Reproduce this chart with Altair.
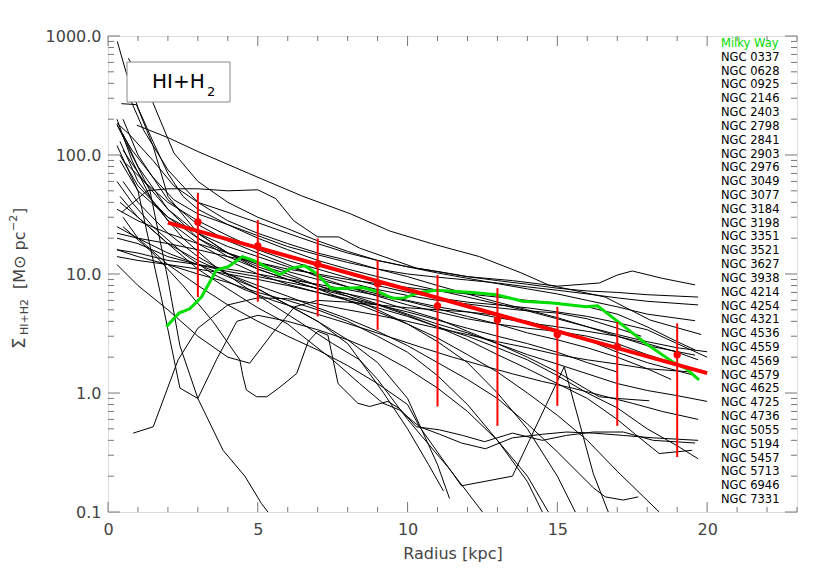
import altair as alt
import pandas as pd

# ---------------- data ----------------
galaxy_names = ["NGC 0337", "NGC 0628", "NGC 0925", "NGC 2146", "NGC 2403", "NGC 2798",
                "NGC 2841", "NGC 2903", "NGC 2976", "NGC 3049", "NGC 3077", "NGC 3184",
                "NGC 3198", "NGC 3351", "NGC 3521", "NGC 3627", "NGC 3938", "NGC 4214",
                "NGC 4254", "NGC 4321", "NGC 4536", "NGC 4559", "NGC 4569", "NGC 4579",
                "NGC 4625", "NGC 4725", "NGC 4736", "NGC 5055", "NGC 5194", "NGC 5457",
                "NGC 5713", "NGC 6946", "NGC 7331"]

r01 = [0.96, 2, 3, 4.7, 6.5, 8.1, 9.4, 10.8, 12.4, 13.8, 14.7, 16.6, 18.1, 19.8]
s01 = [178, 140, 107, 70, 45, 32, 23, 18, 14, 10.2, 8.1, 6.4, 4.1, 3.1]
r02 = [0.46, 1.3, 2, 3, 4, 5, 5.6, 6.2, 7, 7.7, 8.4, 10.3, 12, 13.5, 15, 16.4, 17, 17.5, 18.5, 19.6]
s02 = [33, 50, 52, 52, 50, 51, 43, 28, 20.5, 20.5, 16.5, 11.2, 9.5, 8.8, 7.9, 8.4, 9.8, 10.6, 9.2, 8.1]
r03 = [0.3, 0.7, 1.5, 2.2, 3, 4, 5, 6, 7, 8, 9, 10, 11, 12, 13, 14, 15, 16, 17, 18, 19.7]
s03 = [185, 150, 90, 55, 40, 33, 27, 22, 18, 15, 13, 11.5, 10.5, 9.5, 8.8, 8.2, 7.6, 7.2, 7.0, 6.7, 6.4]
r04 = [0.3, 0.8, 1.5, 2.2, 3, 4, 5, 6, 7, 8, 9, 10, 11, 12, 13, 14, 15, 16, 17, 18, 19.7]
s04 = [180, 110, 65, 42, 32, 26, 21, 17, 14.5, 12.5, 11, 10, 9.4, 8.9, 8.4, 7.8, 7.3, 6.8, 6.3, 5.9, 5.5]
r05 = [0.68, 1.5, 2.2, 3, 4, 5, 6, 7, 8, 9, 10, 11, 12, 13, 14, 15, 16, 17, 18, 19.6]
s05 = [650, 275, 104, 60, 40, 30, 24, 19, 15.5, 13, 11.5, 10.2, 9.2, 8.3, 7.5, 6.8, 6.0, 5.3, 4.6, 4.05]
r06 = [0.31, 0.6, 1, 1.5, 2, 2.5, 3, 4, 5, 6, 7, 8, 9, 10, 11, 12, 13, 14, 15, 16, 17, 18, 19, 20]
s06 = [900, 500, 250, 130, 70, 45, 35, 26, 20, 16, 13, 11, 9.5, 8.3, 7.3, 6.4, 5.6, 4.9, 4.2, 3.6, 3.1, 2.7, 2.4, 2.22]
r07 = [0.68, 1.2, 2, 3, 4, 5, 6, 7, 8, 9, 10, 11, 12, 13, 14, 15, 16, 17, 18, 19.6]
s07 = [320, 160, 75, 40, 28, 22, 18, 15, 13, 11, 9.5, 8, 6.8, 5.8, 5.0, 4.3, 3.6, 3.0, 2.5, 2.08]
r08 = [0.84, 1.51, 2.34, 3, 4, 5, 6, 7, 8, 9, 10, 11, 12, 13, 14, 15, 16, 17, 18, 19.5]
s08 = [0.46, 0.52, 1.9, 3.5, 5.5, 6.3, 6.2, 5.6, 5.0, 4.5, 4.0, 3.5, 3.1, 2.7, 2.4, 2.1, 1.9, 1.75, 1.6, 1.5]
r09 = [0.45, 0.95, 1.5, 2, 3, 4, 5, 6, 7, 8, 9, 10, 11, 12, 13, 14, 15, 16, 17, 18, 19, 20]
s09 = [270, 265, 120, 45, 22, 15, 11.5, 9.5, 8, 6.8, 5.6, 4.6, 3.8, 3.2, 2.6, 2.1, 1.75, 1.45, 1.2, 1.05, 0.95, 0.85]
r10 = [0.3, 0.8, 1.5, 2.5, 3.5, 4.5, 5.5, 6.5, 7.5, 8.5, 9.5, 10.5, 11.5, 12.5, 13.5, 14.5, 15.5, 16.5, 17.5, 18.5, 19.7]
s10 = [60, 40, 25, 15, 10, 7.5, 6, 5, 4.2, 3.5, 2.9, 2.4, 2.0, 1.7, 1.45, 1.25, 1.1, 0.95, 0.82, 0.7, 0.6]
r11 = [0.5, 1.2, 2, 3, 4, 5, 6, 7, 8, 9, 10, 11, 12, 13, 14, 15, 16, 17, 17.6, 18.4, 19.5]
s11 = [110, 60, 35, 22, 15, 11, 9, 7.5, 6.5, 5.5, 4.5, 3.6, 2.8, 2.1, 1.6, 1.2, 0.9, 0.6, 0.45, 0.31, 0.33]
r12 = [0.3, 1, 2, 3, 4, 5, 6, 7, 8, 9, 10, 11, 12, 13, 14, 15, 16, 17, 18, 19, 19.7]
s12 = [14, 13, 12, 11, 10, 9, 8, 7, 6, 5.2, 4.4, 3.6, 3, 2.4, 1.9, 1.4, 1.0, 0.75, 0.5, 0.36, 0.28]
r13 = [0.5, 1.5, 2.5, 3.5, 4.4, 4.5, 4.62, 4.96, 5.3, 5.7, 6.3, 6.68, 7.0, 7.34, 7.68, 8.34, 8.73, 9.34, 9.73,
       10.29, 11.07, 11.84, 12.57, 13.5, 14.5, 15.3, 16.2, 17.2, 18.2, 19.6]
s13 = [25, 15, 8, 4, 1.9, 1.4, 1.06, 0.93, 0.93, 1.1, 1.46, 2.7, 3.3, 3.07, 1.2, 0.82, 0.77, 0.85, 0.74,
       0.52, 0.49, 0.44, 0.39, 0.46, 0.4, 0.44, 0.47, 0.47, 0.40, 0.38]
r14 = [0.3, 1, 2, 3, 4, 5, 6, 7, 8, 9, 10, 11, 12, 13, 14, 15, 16.4, 17, 18.07]
s14 = [20, 18, 14, 12, 10.5, 9.5, 8.5, 7.6, 6.8, 6, 5, 4.2, 3.3, 2.6, 2, 1.5, 0.93, 0.9, 0.86]
r15 = [0.5, 1, 2, 3, 4, 5, 6, 7, 8, 9, 10, 11, 12, 13, 14, 15, 16, 17, 18.4]
s15 = [150, 80, 35, 20, 14, 11, 9, 7.5, 6, 4.8, 3.8, 2.9, 2.1, 1.5, 1.0, 0.65, 0.4, 0.22, 0.1]
r16 = [0.4, 1, 2, 3, 4, 5, 6, 7, 8, 9, 10, 11, 12, 13, 14, 15, 16.2, 16.6, 17.2, 17.7]
s16 = [45, 30, 18, 13, 10, 8, 6.5, 5.2, 4.2, 3.3, 2.5, 1.8, 1.3, 0.9, 0.55, 0.32, 0.16, 0.134, 0.126, 0.134]
r17 = [0.4, 1, 2, 3, 4, 5, 6, 6.5, 7.5, 8.4, 9.18, 9.73, 10.4, 11.8, 13.5, 15.23, 16.2, 16.7]
s17 = [40, 30, 18, 11, 7.5, 5.2, 3.8, 3, 1.9, 1.2, 0.82, 0.72, 0.52, 0.166, 0.2, 1.66, 0.21, 0.1]
r18 = [0.3, 0.8, 1.4, 2.0, 2.4, 3.0, 3.84, 4.57, 5.12, 5.34]
s18 = [180, 100, 50, 9, 2.5, 0.9, 0.33, 0.2, 0.118, 0.1]
r19 = [0.3, 1, 1.8, 2.4, 3.0, 3.62, 4.3, 5, 6, 7, 8, 9, 10, 11, 12, 13, 14, 14.7]
s19 = [120, 50, 6, 1.1, 0.9, 1.9, 4, 4.5, 4, 3.4, 2.8, 2.2, 1.6, 1.1, 0.7, 0.4, 0.2, 0.1]
r20 = [0.3, 1, 2, 3, 4, 4.73, 5.5, 6.23, 7, 8, 9, 10, 11, 12, 13, 14, 15, 16, 17, 18, 19.6]
s20 = [12, 8, 5, 3, 2, 1.78, 3.2, 5.3, 6, 5.8, 5.5, 5.2, 5, 4.8, 4.5, 4, 3.4, 2.8, 2.2, 1.8, 1.4]
r21 = [0.3, 0.8, 1.5, 2.5, 3.5, 4.5, 5.5, 6.5, 7.5, 8.4, 9.2, 10, 10.7, 11.2]
s21 = [200, 90, 40, 20, 12, 8, 5.5, 3.8, 2.6, 1.9, 1.0, 0.5, 0.25, 0.15]
r22 = [0.5, 1, 2, 3, 4, 5, 6, 7, 8, 9, 10, 11, 11.4]
s22 = [60, 40, 22, 14, 10, 7.5, 5.5, 4, 2.8, 1.8, 0.9, 0.25, 0.13]
r23 = [0.3, 1, 2, 3, 4, 5, 6, 7, 8, 8.4, 9, 10, 11.4, 12.5]
s23 = [25, 20, 15, 12, 9.5, 7.5, 5.5, 4, 2.6, 1.9, 1.3, 0.6, 0.23, 0.1]
r24 = [0.4, 1, 2, 3, 4, 5, 6, 7, 8, 9, 10, 11, 12, 13, 14, 15, 15.6]
s24 = [90, 50, 30, 20, 15, 12, 10, 8, 6.5, 5, 3.8, 2.7, 1.8, 1.0, 0.5, 0.2, 0.1]
r25 = [0.3, 1, 2, 3, 4, 5, 6, 7, 8, 9, 10, 11, 12, 13, 14, 14.5]
s25 = [16, 14, 12, 10, 8.5, 7, 6, 5, 4, 3, 2.2, 1.4, 0.8, 0.4, 0.18, 0.1]
r26 = [0.3, 1, 2, 3, 4, 5, 6, 7, 8, 9, 10, 11, 12, 13, 14, 15, 16, 17, 18, 19, 19.6]
s26 = [22, 20, 18, 16, 14, 12.5, 11, 10, 9, 8.3, 7.7, 7.2, 6.8, 6.4, 6, 5.7, 5.3, 4.6, 3.6, 2.7, 2.3]
r27 = [0.4, 1, 2, 3, 4, 5, 6, 7, 8, 9, 10, 11, 12, 13, 14, 15, 16, 17, 17.8]
s27 = [100, 55, 30, 22, 17, 14, 11.5, 9.8, 8.5, 7.4, 6.6, 6, 5.6, 5.2, 4.9, 4.7, 4.2, 3.5, 3.0]
r28 = [0.3, 1, 2, 3, 4, 5, 6, 7, 8, 9, 10, 11, 12, 13, 14, 15, 16, 17, 18, 19, 19.7]
s28 = [35, 28, 22, 18, 15, 12.5, 10.5, 9, 7.8, 6.8, 6, 5.3, 4.8, 4.3, 3.9, 3.6, 3.3, 3, 2.6, 2.2, 1.9]
r29 = [0.5, 1, 2, 3, 4, 5, 6, 7, 8, 9, 10, 11, 12, 13, 14, 15, 16, 17, 18, 19.5]
s29 = [200, 100, 42, 26, 19, 15, 12, 9.5, 7.8, 6.5, 5.5, 4.8, 4.2, 3.8, 3.5, 3.3, 3.0, 2.6, 2.1, 1.6]
r30 = [0.3, 1, 2, 3, 4, 5, 6, 7, 8, 9, 10, 11, 12, 13, 14, 15, 16, 17, 18, 18.8]
s30 = [16, 15, 13, 12, 11, 10, 9, 8.2, 7.4, 6.6, 5.9, 5.1, 4.4, 3.8, 3.2, 2.8, 2.4, 2.0, 1.6, 1.3]
r31 = [0.4, 1, 2, 3, 4, 5, 6, 7, 8, 9, 10, 11, 12, 13, 14, 15, 16, 17]
s31 = [130, 60, 28, 18, 13, 10, 8.2, 7, 6.2, 5.5, 4.8, 4.1, 3.5, 3, 2.6, 2.2, 1.8, 1.5]
r32 = [0.6, 1.2, 2, 3, 4, 5, 6, 7, 8, 9, 10, 11, 12, 13, 14, 15, 16, 17, 18, 19, 20]
s32 = [85, 60, 40, 28, 21, 16, 13, 11, 9.3, 8, 7, 6.3, 5.8, 5.5, 5.2, 4.8, 4.4, 3.9, 3.4, 2.6, 2.0]
r33 = [0.5, 1, 2, 3, 4, 5, 6, 7, 8, 9, 10, 10.4, 11.07, 11.8, 12.6, 13.5, 14.5, 15.3, 16.2, 17.2, 18.2, 19.7]
s33 = [30, 20, 12, 8, 5.5, 4, 3, 2.3, 1.7, 1.2, 0.8, 0.52, 0.45, 0.38, 0.34, 0.42, 0.45, 0.47, 0.46, 0.44, 0.42, 0.40]

galaxy_r = [r01, r02, r03, r04, r05, r06, r07, r08, r09, r10, r11, r12, r13, r14, r15, r16, r17,
            r18, r19, r20, r21, r22, r23, r24, r25, r26, r27, r28, r29, r30, r31, r32, r33]
galaxy_s = [s01, s02, s03, s04, s05, s06, s07, s08, s09, s10, s11, s12, s13, s14, s15, s16, s17,
            s18, s19, s20, s21, s22, s23, s24, s25, s26, s27, s28, s29, s30, s31, s32, s33]

mw_r = [1.95, 2.37, 2.73, 3.12, 3.62, 4.01, 4.49, 4.96, 5.73, 6.12, 6.57, 6.96, 7.46, 8.51, 9.07,
        9.51, 9.9, 10.4, 10.96, 12.18, 12.96, 13.84, 14.84, 15.96, 16.34, 16.96, 17.96, 18.84, 19.29, 19.73]
mw_s = [3.6, 4.7, 5.1, 6.4, 10.8, 11.5, 14.0, 12.7, 9.9, 11.2, 11.7, 10.1, 7.5, 7.7, 7.0,
        6.25, 6.3, 7.0, 7.3, 7.0, 6.7, 5.9, 5.7, 5.3, 5.4, 4.1, 2.6, 1.83, 1.61, 1.29]

fit_r = [2, 20]
fit_s = [27, 1.47]

bin_r = [3, 5, 7, 9, 11, 13, 15, 17, 19]
bin_mid = [27.4, 17.2, 12.1, 8.3, 5.4, 4.1, 3.1, 2.45, 2.1]
bin_hi = [48, 28.4, 19.9, 13.1, 9.8, 7.6, 5.3, 3.95, 3.85]
bin_lo = [6.4, 5.85, 4.4, 3.4, 0.77, 0.53, 0.78, 0.53, 0.29]

x_ticks = list(range(0, 24))
y_major = [0.1, 1, 10, 100, 1000]
y_minor = [m * d for d in [0.1, 1, 10, 100] for m in range(2, 10)]

# ---------------- frames ----------------
rows = []
for name, rr, ss in zip(galaxy_names, galaxy_r, galaxy_s):
    for i, (a, b) in enumerate(zip(rr, ss)):
        rows.append({"galaxy": name, "r": a, "s": b, "i": i})
gal_df = pd.DataFrame(rows)
mw_df = pd.DataFrame({"r": mw_r, "s": mw_s, "i": range(len(mw_r))})
fit_df = pd.DataFrame({"r": fit_r, "s": fit_s})
bin_df = pd.DataFrame({"r": bin_r, "mid": bin_mid, "lo": bin_lo, "hi": bin_hi})
xmaj_df = pd.DataFrame({"v": [t for t in x_ticks if t % 5 == 0]})
xmin_df = pd.DataFrame({"v": [t for t in x_ticks if t % 5 != 0]})
ymaj_df = pd.DataFrame({"v": y_major})
ymin_df = pd.DataFrame({"v": y_minor})
leg_names = ["Milky Way"] + galaxy_names
leg_df = pd.DataFrame({"name": leg_names, "idx": range(len(leg_names)),
                       "col": ["#00dd00"] + ["black"] * len(galaxy_names)})

W, H = 689, 476
FRAME = "#777777"
TXT = "#444444"
xscale = alt.Scale(domain=[0, 23], nice=False, zero=False)
yscale = alt.Scale(type="log", domain=[0.1, 1000], nice=False)

xaxis = alt.Axis(values=[0, 5, 10, 15, 20], format="d", title="Radius [kpc]", grid=False,
                 ticks=False, domain=False, labelFontSize=16, labelColor=TXT,
                 labelPadding=9, titleFontSize=16, titleFontWeight="normal",
                 titleColor=TXT, titlePadding=8, labelFlush=False)
yaxis = alt.Axis(values=y_major, format=".1f", title="", grid=False, ticks=False,
                 domain=False, labelFontSize=16, labelColor=TXT, labelPadding=7,
                 labelFlush=False)


def X(f):
    return alt.X(f, scale=xscale, axis=xaxis)


def Y(f):
    return alt.Y(f, scale=yscale, axis=yaxis)


gal = alt.Chart(gal_df).mark_line(color="black", strokeWidth=1, clip=True).encode(
    x=X("r:Q"), y=Y("s:Q"), detail="galaxy:N", order="i:Q")

mw = alt.Chart(mw_df).mark_line(color="#00dd00", strokeWidth=3, clip=True).encode(
    x=X("r:Q"), y=Y("s:Q"), order="i:Q")

fit = alt.Chart(fit_df).mark_line(color="red", strokeWidth=4).encode(
    x=X("r:Q"), y=Y("s:Q"))

bars = alt.Chart(bin_df).mark_rule(color="red", strokeWidth=2).encode(
    x=X("r:Q"), y=Y("lo:Q"), y2="hi:Q")

pts = alt.Chart(bin_df).mark_circle(color="red", size=55, opacity=1).encode(
    x=X("r:Q"), y=Y("mid:Q"))

# inward ticks on all four sides
xt_bot_maj = alt.Chart(xmaj_df).mark_rule(color=FRAME).encode(
    x=X("v:Q"), y=alt.value(H), y2=alt.value(H - 10))
xt_bot_min = alt.Chart(xmin_df).mark_rule(color=FRAME).encode(
    x=X("v:Q"), y=alt.value(H), y2=alt.value(H - 5))
xt_top_maj = alt.Chart(xmaj_df).mark_rule(color=FRAME).encode(
    x=X("v:Q"), y=alt.value(0), y2=alt.value(10))
xt_top_min = alt.Chart(xmin_df).mark_rule(color=FRAME).encode(
    x=X("v:Q"), y=alt.value(0), y2=alt.value(5))
yt_l_maj = alt.Chart(ymaj_df).mark_rule(color=FRAME).encode(
    y=Y("v:Q"), x=alt.value(0), x2=alt.value(12))
yt_l_min = alt.Chart(ymin_df).mark_rule(color=FRAME).encode(
    y=Y("v:Q"), x=alt.value(0), x2=alt.value(6))
yt_r_maj = alt.Chart(ymaj_df).mark_rule(color=FRAME).encode(
    y=Y("v:Q"), x=alt.value(W), x2=alt.value(W - 12))
yt_r_min = alt.Chart(ymin_df).mark_rule(color=FRAME).encode(
    y=Y("v:Q"), x=alt.value(W), x2=alt.value(W - 6))

# HI+H2 label box (annotation, placed in pixels inside the plot)
box = alt.Chart(pd.DataFrame({"a": [0]})).mark_rect(
    fill="white", stroke="#888888", strokeWidth=1).encode(
    x=alt.value(19), x2=alt.value(122), y=alt.value(26), y2=alt.value(66))
box_txt = alt.Chart(pd.DataFrame({"t": ["HI+H"]})).mark_text(
    fontSize=20, align="left", baseline="alphabetic", color="black").encode(
    x=alt.value(44), y=alt.value(52), text="t:N")
box_sub = alt.Chart(pd.DataFrame({"t": ["2"]})).mark_text(
    fontSize=13, align="left", baseline="alphabetic", color="black").encode(
    x=alt.value(99), y=alt.value(60), text="t:N")


# rotated y title pieces (Σ_{HI+H2} [M⊙ pc^-2])
def ypiece(t, size, px, py):
    return alt.Chart(pd.DataFrame({"t": [t]})).mark_text(
        fontSize=size, angle=270, align="left", baseline="alphabetic", color=TXT).encode(
        x=alt.value(px - 108), y=alt.value(py - 36), text="t:N")


ytitle = [
    ypiece("Σ", 18, 25, 349),
    ypiece("HI+H2", 11, 28, 335),
    ypiece("[M⊙ pc", 16, 25, 289),
    ypiece("−2", 11, 17, 231),
    ypiece("]", 16, 25, 214),
]

inner = alt.layer(gal, mw, fit, bars, pts,
                  xt_bot_maj, xt_bot_min, xt_top_maj, xt_top_min,
                  yt_l_maj, yt_l_min, yt_r_maj, yt_r_min,
                  box, box_txt, box_sub, *ytitle)

legend = alt.Chart(leg_df).mark_text(fontSize=11.5, align="left", baseline="middle").encode(
    x=alt.value(613),
    y=alt.Y("idx:O", axis=None, scale=alt.Scale(range=[8, 464], padding=0)),
    text="name:N",
    color=alt.Color("col:N", scale=None))

chart = alt.layer(inner, legend).resolve_scale(y="independent").properties(
    width=W, height=H,
    padding={"left": 100, "top": 28, "right": 20, "bottom": 55},
    autosize=alt.AutoSizeParams(type="none"),
    background="white",
).configure_view(stroke=FRAME, strokeWidth=1).configure(font="DejaVu Sans")

chart.save("out.html", embed_options={"renderer": "svg", "actions": False})
